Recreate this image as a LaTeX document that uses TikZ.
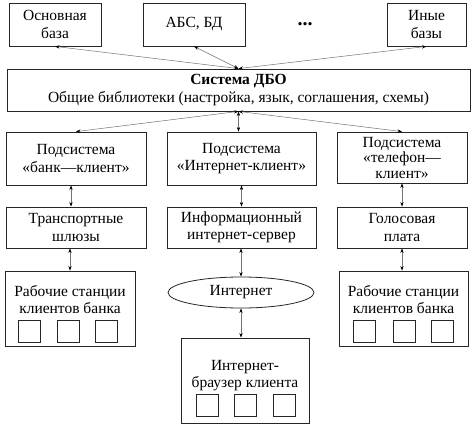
\documentclass[tikz,border=0pt]{standalone}
\usepackage{fontspec}
\setmainfont{Liberation Serif}
\usetikzlibrary{arrows.meta,shapes.geometric}
\begin{document}
\begin{tikzpicture}[x=1pt,y=-1pt,
  box/.style={draw=black!85,line width=0.8pt,inner sep=0pt,align=center,font=\fontsize{15.5}{17.5}\selectfont},
  txt/.style={inner sep=0pt,align=center,font=\fontsize{15.5}{17.5}\selectfont},
  sq/.style={draw=black!85,line width=0.8pt,minimum width=22pt,minimum height=22pt,inner sep=0pt},
  conn/.style={draw=black!55,line width=0.5pt,{Stealth[length=4.5pt,width=3.2pt,color=black]}-{Stealth[length=4.5pt,width=3.2pt,color=black]}}]
\useasboundingbox (0,0) rectangle (474,429);
% top row
\node[box,minimum width=92pt,minimum height=43pt] (osn) at (55,24.5) {Основная\\база};
\node[box,minimum width=102pt,minimum height=43pt] (abs) at (194,24.5) {АБС, БД};
\node[font=\fontsize{20}{20}\selectfont\bfseries] (dots) at (305,24) {...};
\node[box,minimum width=79pt,minimum height=43pt] (iny) at (426.5,24.5) {Иные\\базы};
% system
\node[box,minimum width=463pt,minimum height=42pt] (sys) at (238.5,90) {\textbf{Система ДБО}\\Общие библиотеки (настройка, язык, соглашения, схемы)};
% subsystems
\node[box,minimum width=140pt,minimum height=53pt] (s1) at (76,158.5) {Подсистема\\«банк—клиент»};
\node[box,minimum width=149pt,minimum height=53pt] (s2) at (241.5,158.5) {Подсистема\\«Интернет-клиент»};
\node[box,minimum width=130pt,minimum height=51pt,font=\fontsize{15.5}{15.5}\selectfont] (s3) at (402,157.5) {Подсистема\\«телефон—\\клиент»};
% row 3
\node[box,minimum width=140pt,minimum height=41pt] (t1) at (76,227.5) {Транспортные\\шлюзы};
\node[box,minimum width=149pt,minimum height=41pt] (t2) at (241.5,227.5) {Информационный\\интернет-сервер};
\node[box,minimum width=130pt,minimum height=41pt] (t3) at (402,227.5) {Голосовая\\плата};
% row 4
\node[box,minimum width=130pt,minimum height=75pt] (w1) at (70,308.5) {};
\node[txt,anchor=base] (w1a) at (70,296) {Рабочие станции};
\node[txt,anchor=base] (w1b) at (70,313) {клиентов банка};
\node[sq] (w1q1) at (29.5,331) {};
\node[sq] (w1q2) at (68,331) {};
\node[sq] (w1q3) at (106.5,331) {};
\node[box,ellipse,minimum width=146pt,minimum height=31pt] (net) at (241,292.5) {Интернет};
\node[box,minimum width=129pt,minimum height=75pt] (w3) at (403.5,308.5) {};
\node[txt,anchor=base] (w3a) at (403.5,296) {Рабочие станции};
\node[txt,anchor=base] (w3b) at (403.5,313) {клиентов банка};
\node[sq] (w3q1) at (364.5,331) {};
\node[sq] (w3q2) at (404,331) {};
\node[sq] (w3q3) at (442.5,331) {};
\node[box,minimum width=128pt,minimum height=85pt] (br) at (245,380.5) {};
\node[txt,anchor=base] (bra) at (245,370) {Интернет-};
\node[txt,anchor=base] (brb) at (245,387) {браузер клиента};
\node[sq] (brq1) at (207,405.5) {};
\node[sq] (brq2) at (245.5,405.5) {};
\node[sq] (brq3) at (284,405.5) {};
% connectors
\draw[conn] (sys.north) -- (osn.south);
\draw[conn] (sys.north) -- (abs.south);
\draw[conn] (sys.north) -- (iny.south);
\draw[conn] (sys.south) -- (s1.north);
\draw[conn] (sys.south) -- (sys.south |- s2.north);
\draw[conn] (sys.south) -- (s3.north);
\draw[conn] ([xshift=-5pt]s1.south) -- ([xshift=-5pt]t1.north);
\draw[conn] (s2.south) -- (t2.north);
\draw[conn] (s3.south) -- (t3.north);
\draw[conn] (w1.north |- t1.south) -- (w1.north);
\draw[conn] (net.north |- t2.south) -- (net.north);
\draw[conn] (net.south) -- (net.south |- br.north);
\draw[conn] (t3.south) -- (t3.south |- w3.north);
\end{tikzpicture}
\end{document}
